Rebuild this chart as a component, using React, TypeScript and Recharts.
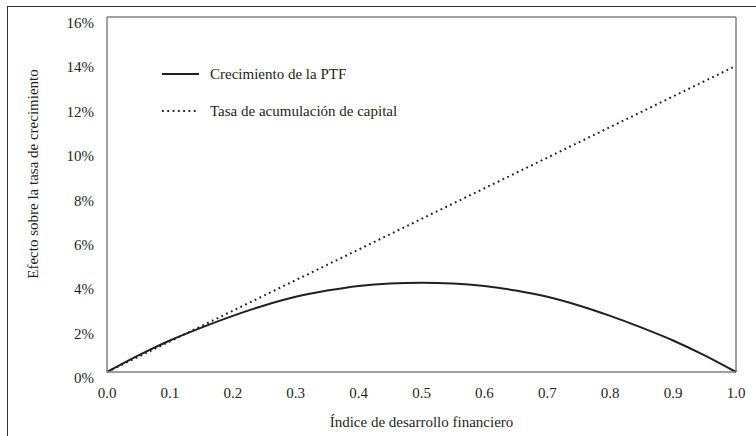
import {
  Label,
  Line,
  LineChart,
  ReferenceLine,
  XAxis,
  YAxis,
} from 'recharts'

const indice = [0, 0.05, 0.1, 0.15, 0.2, 0.25, 0.3, 0.35, 0.4, 0.45, 0.5, 0.55, 0.6, 0.65, 0.7, 0.75, 0.8, 0.85, 0.9, 0.95, 1]
const crecimientoPTF = [0, 0.75, 1.42, 2.0, 2.53, 3.0, 3.39, 3.67, 3.88, 3.99, 4.02, 3.99, 3.88, 3.67, 3.39, 3.0, 2.53, 2.0, 1.42, 0.75, 0]
const acumulacionCapital = [0, 0.69, 1.38, 2.07, 2.76, 3.45, 4.14, 4.83, 5.52, 6.21, 6.9, 7.59, 8.28, 8.97, 9.66, 10.35, 11.04, 11.73, 12.42, 13.11, 13.8]
const xTicks = [0, 0.1, 0.2, 0.3, 0.4, 0.5, 0.6, 0.7, 0.8, 0.9, 1]
const yTicks = [0, 2, 4, 6, 8, 10, 12, 14, 16]

const FONT = '"Liberation Serif", serif'
const INK = '#231f20'
const AXIS = '#808080'

const data = indice.map((x, i) => ({
  x,
  ptf: crecimientoPTF[i],
  capital: acumulacionCapital[i],
}))

function XTick({ x, y, payload }: any) {
  return (
    <text x={x} y={y} dy={18} textAnchor="middle" fill={INK} style={{ fontFamily: FONT, fontSize: 15 }}>
      {payload.value.toFixed(1)}
    </text>
  )
}

function YTick({ x, y, payload }: any) {
  return (
    <text x={x} y={y} dy={11} textAnchor="end" fill={INK} style={{ fontFamily: FONT, fontSize: 15 }}>
      {payload.value}%
    </text>
  )
}

function LegendBox() {
  const row = { display: 'flex', alignItems: 'center', height: 20 }
  const txt = { fontFamily: FONT, fontSize: 15, color: INK, marginLeft: 11 }
  return (
    <div style={{ position: 'absolute', left: 162, top: 64, lineHeight: 1 }}>
      <div style={row}>
        <svg width={37} height={4}>
          <line x1={0} y1={2} x2={37} y2={2} stroke={INK} strokeWidth={2} />
        </svg>
        <span style={txt}>Crecimiento de la PTF</span>
      </div>
      <div style={{ ...row, marginTop: 17 }}>
        <svg width={37} height={4}>
          <line x1={0} y1={2} x2={37} y2={2} stroke={INK} strokeWidth={2} strokeDasharray="1.8 3.5" />
        </svg>
        <span style={txt}>Tasa de acumulación de capital</span>
      </div>
    </div>
  )
}

export default function App() {
  return (
    <div style={{ position: 'absolute', left: 0, top: 0, width: 756, height: 436, background: '#fff' }}>
      <div
        style={{
          position: 'absolute',
          left: 7,
          top: 6,
          width: 760,
          height: 440,
          borderTop: '1.5px solid #333',
          borderLeft: '1.5px solid #333',
        }}
      />
      <LineChart
        width={756}
        height={436}
        data={data}
        margin={{ top: 17, right: 20, left: 0, bottom: 34 }}
        style={{ position: 'absolute', left: 0, top: 0 }}
      >
        <XAxis
          dataKey="x"
          type="number"
          domain={[0, 1]}
          ticks={xTicks}
          tick={<XTick />}
          tickLine={false}
          tickSize={6}
          tickMargin={2}
          axisLine={{ stroke: AXIS, strokeWidth: 1.5 }}
          height={30}
        >
          <Label
            content={({ viewBox }: any) => (
              <text
                x={viewBox.x + viewBox.width / 2}
                y={427}
                textAnchor="middle"
                fill={INK}
                style={{ fontFamily: FONT, fontSize: 15 }}
              >
                Índice de desarrollo financiero
              </text>
            )}
          />
        </XAxis>
        <YAxis
          type="number"
          domain={[0, 16]}
          ticks={yTicks}
          tick={<YTick />}
          tickLine={false}
          tickSize={6}
          tickMargin={7}
          axisLine={{ stroke: AXIS, strokeWidth: 1.5 }}
          width={107}
        >
          <Label
            content={() => (
              <text
                x={38}
                y={174}
                transform="rotate(-90 38 174)"
                textAnchor="middle"
                fill={INK}
                style={{ fontFamily: FONT, fontSize: 15 }}
              >
                Efecto sobre la tasa de crecimiento
              </text>
            )}
          />
        </YAxis>
        <ReferenceLine y={16} stroke={AXIS} strokeWidth={1.5} />
        <ReferenceLine x={1} stroke={AXIS} strokeWidth={1.5} />
        <Line
          type="monotone"
          dataKey="capital"
          stroke={INK}
          strokeWidth={2}
          strokeDasharray="1.8 3.5"
          dot={false}
          isAnimationActive={false}
        />
        <Line
          type="monotone"
          dataKey="ptf"
          stroke={INK}
          strokeWidth={2}
          dot={false}
          isAnimationActive={false}
        />
      </LineChart>
      <LegendBox />
    </div>
  )
}
